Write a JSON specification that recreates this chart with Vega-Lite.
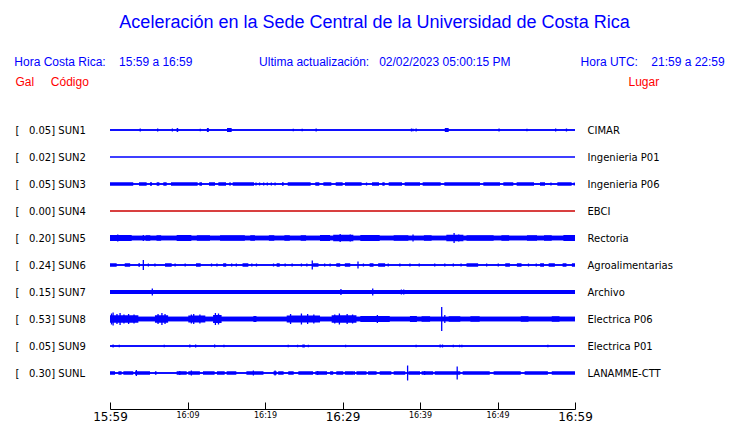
{
  "$schema": "https://vega.github.io/schema/vega-lite/v6.json",
  "width": 465,
  "height": 297,
  "autosize": "none",
  "padding": {"left": 110, "top": 103, "right": 165, "bottom": 23},
  "background": "white",
  "config": {"view": {"stroke": null}, "font": "Liberation Sans"},
  "title": {
    "text": "\u200b\u00a0\u00a0Aceleración en la Sede Central de la Universidad de Costa Rica",
    "subtitle": "Hora Costa Rica:\u00a0\u00a0\u00a0\u00a015:59 a 16:59\u00a0\u00a0\u00a0\u00a0\u00a0\u00a0\u00a0\u00a0\u00a0\u00a0\u00a0\u00a0\u00a0\u00a0\u00a0\u00a0\u00a0\u00a0\u00a0\u00a0Ultima actualización:\u00a0\u00a0\u00a002/02/2023 05:00:15 PM\u00a0\u00a0\u00a0\u00a0\u00a0\u00a0\u00a0\u00a0\u00a0\u00a0\u00a0\u00a0\u00a0\u00a0\u00a0\u00a0\u00a0\u00a0\u00a0\u00a0\u00a0Hora UTC:\u00a0\u00a0\u00a0\u00a021:59 a 22:59",
    "anchor": "middle",
    "frame": "group",
    "dx": 27,
    "offset": 7,
    "font": "Liberation Sans",
    "fontSize": 18,
    "fontWeight": "normal",
    "color": "#0000ff",
    "subtitleFont": "Liberation Sans",
    "subtitleFontSize": 12,
    "subtitleColor": "#0000ff",
    "subtitlePadding": 25
  },
  "datasets": {
    "stations": [
      {"code": "SUN1", "gal": 0.05, "lugar": "CIMAR", "noise": 1.3},
      {"code": "SUN2", "gal": 0.02, "lugar": "Ingenieria P01", "noise": 1.1},
      {"code": "SUN3", "gal": 0.05, "lugar": "Ingenieria P06", "noise": 1.4},
      {"code": "SUN4", "gal": 0.00, "lugar": "EBCI", "noise": 1.0},
      {"code": "SUN5", "gal": 0.20, "lugar": "Rectoria", "noise": 4.5},
      {"code": "SUN6", "gal": 0.24, "lugar": "Agroalimentarias", "noise": 1.5},
      {"code": "SUN7", "gal": 0.15, "lugar": "Archivo", "noise": 4},
      {"code": "SUN8", "gal": 0.53, "lugar": "Electrica P06", "noise": 4.5},
      {"code": "SUN9", "gal": 0.05, "lugar": "Electrica P01", "noise": 1.6},
      {"code": "SUNL", "gal": 0.30, "lugar": "LANAMME-CTT", "noise": 1.5}
    ],
    "bands": [
      {"s": "SUN1", "t0": 8.6, "t1": 8.8, "a": 4},
      {"s": "SUN1", "t0": 12.5, "t1": 12.75, "a": 4},
      {"s": "SUN1", "t0": 15.1, "t1": 15.7, "a": 4},
      {"s": "SUN1", "t0": 43.2, "t1": 43.7, "a": 4},
      {"s": "SUN3", "t0": 0, "t1": 3.0, "a": 3.5},
      {"s": "SUN3", "t0": 3.74, "t1": 4.73, "a": 3.5},
      {"s": "SUN3", "t0": 5.16, "t1": 5.42, "a": 3.5},
      {"s": "SUN3", "t0": 6.02, "t1": 6.37, "a": 3.5},
      {"s": "SUN3", "t0": 6.88, "t1": 7.31, "a": 3.5},
      {"s": "SUN3", "t0": 7.87, "t1": 11.31, "a": 3.5},
      {"s": "SUN3", "t0": 11.53, "t1": 11.87, "a": 3.5},
      {"s": "SUN3", "t0": 12.77, "t1": 13.55, "a": 3.5},
      {"s": "SUN3", "t0": 13.98, "t1": 14.97, "a": 3.5},
      {"s": "SUN3", "t0": 15.4, "t1": 15.57, "a": 3.5},
      {"s": "SUN3", "t0": 15.83, "t1": 18.58, "a": 3.5},
      {"s": "SUN3", "t0": 22.19, "t1": 22.41, "a": 3.5},
      {"s": "SUN3", "t0": 22.93, "t1": 25.89, "a": 3.5},
      {"s": "SUN3", "t0": 26.49, "t1": 27.01, "a": 3.5},
      {"s": "SUN3", "t0": 27.53, "t1": 28.56, "a": 3.5},
      {"s": "SUN3", "t0": 29.12, "t1": 30.02, "a": 3.5},
      {"s": "SUN3", "t0": 30.32, "t1": 32.47, "a": 3.5},
      {"s": "SUN3", "t0": 33.81, "t1": 34.71, "a": 3.5},
      {"s": "SUN3", "t0": 35.14, "t1": 35.44, "a": 3.5},
      {"s": "SUN3", "t0": 35.96, "t1": 37.68, "a": 3.5},
      {"s": "SUN3", "t0": 38.02, "t1": 40.0, "a": 3.5},
      {"s": "SUN3", "t0": 40.34, "t1": 42.67, "a": 3.5},
      {"s": "SUN3", "t0": 43.14, "t1": 47.74, "a": 3.5},
      {"s": "SUN3", "t0": 48.17, "t1": 50.32, "a": 3.5},
      {"s": "SUN3", "t0": 50.75, "t1": 52.04, "a": 3.5},
      {"s": "SUN3", "t0": 52.47, "t1": 54.71, "a": 3.5},
      {"s": "SUN3", "t0": 55.48, "t1": 56.13, "a": 3.5},
      {"s": "SUN3", "t0": 57.72, "t1": 59.57, "a": 3.5},
      {"s": "SUN5", "t0": 0, "t1": 2.8, "a": 6},
      {"s": "SUN5", "t0": 4.6, "t1": 5.2, "a": 5.5},
      {"s": "SUN5", "t0": 6.0, "t1": 6.6, "a": 5.5},
      {"s": "SUN5", "t0": 8.6, "t1": 10.5, "a": 6},
      {"s": "SUN5", "t0": 11.2, "t1": 12.9, "a": 5.5},
      {"s": "SUN5", "t0": 14.2, "t1": 17.4, "a": 5.5},
      {"s": "SUN5", "t0": 18.1, "t1": 18.7, "a": 5.5},
      {"s": "SUN5", "t0": 20.5, "t1": 21.2, "a": 5.5},
      {"s": "SUN5", "t0": 22.5, "t1": 23.2, "a": 5.5},
      {"s": "SUN5", "t0": 24.6, "t1": 25.3, "a": 5.5},
      {"s": "SUN5", "t0": 27.1, "t1": 28.4, "a": 6},
      {"s": "SUN5", "t0": 28.8, "t1": 31.4, "a": 6.5},
      {"s": "SUN5", "t0": 32.3, "t1": 34.8, "a": 6},
      {"s": "SUN5", "t0": 36.6, "t1": 38.5, "a": 5.5},
      {"s": "SUN5", "t0": 40.5, "t1": 41.5, "a": 5.5},
      {"s": "SUN5", "t0": 43.4, "t1": 45.6, "a": 6.5},
      {"s": "SUN5", "t0": 46, "t1": 49.5, "a": 5.5},
      {"s": "SUN5", "t0": 50.5, "t1": 51.5, "a": 5.5},
      {"s": "SUN5", "t0": 53.8, "t1": 55.1, "a": 5.5},
      {"s": "SUN5", "t0": 56.0, "t1": 57.0, "a": 5.5},
      {"s": "SUN5", "t0": 58.5, "t1": 60, "a": 6},
      {"s": "SUN6", "t0": 0, "t1": 0.86, "a": 3.5},
      {"s": "SUN6", "t0": 1.9, "t1": 2.6, "a": 3.5},
      {"s": "SUN6", "t0": 3.66, "t1": 3.87, "a": 3.5},
      {"s": "SUN6", "t0": 7.1, "t1": 7.96, "a": 3.5},
      {"s": "SUN6", "t0": 11.1, "t1": 11.7, "a": 3.5},
      {"s": "SUN6", "t0": 14.6, "t1": 15.0, "a": 3.5},
      {"s": "SUN6", "t0": 17.1, "t1": 17.85, "a": 3.5},
      {"s": "SUN6", "t0": 21.5, "t1": 21.9, "a": 3.5},
      {"s": "SUN6", "t0": 26.2, "t1": 26.9, "a": 3.5},
      {"s": "SUN6", "t0": 29.2, "t1": 29.7, "a": 3.5},
      {"s": "SUN6", "t0": 30.3, "t1": 31.0, "a": 3.5},
      {"s": "SUN6", "t0": 33.5, "t1": 34.0, "a": 3.5},
      {"s": "SUN6", "t0": 34.6, "t1": 35.5, "a": 3.5},
      {"s": "SUN6", "t0": 46.0, "t1": 47.5, "a": 3.5},
      {"s": "SUN6", "t0": 51.0, "t1": 51.6, "a": 3.5},
      {"s": "SUN6", "t0": 52.5, "t1": 53.1, "a": 3.5},
      {"s": "SUN6", "t0": 55.5, "t1": 56.0, "a": 3.5},
      {"s": "SUN6", "t0": 56.6, "t1": 57.4, "a": 3.5},
      {"s": "SUN6", "t0": 58.4, "t1": 58.9, "a": 3.5},
      {"s": "SUN6", "t0": 59.6, "t1": 60, "a": 3.5},
      {"s": "SUN8", "t0": 0, "t1": 3.66, "a": 7.5},
      {"s": "SUN8", "t0": 5.8, "t1": 7.5, "a": 7.5},
      {"s": "SUN8", "t0": 10.1, "t1": 12.3, "a": 7},
      {"s": "SUN8", "t0": 13.3, "t1": 14.4, "a": 8},
      {"s": "SUN8", "t0": 18.5, "t1": 18.9, "a": 6},
      {"s": "SUN8", "t0": 22.8, "t1": 27.1, "a": 7},
      {"s": "SUN8", "t0": 28.6, "t1": 31.8, "a": 7.5},
      {"s": "SUN8", "t0": 32.3, "t1": 36.1, "a": 6},
      {"s": "SUN8", "t0": 38.7, "t1": 39.6, "a": 6},
      {"s": "SUN8", "t0": 40.2, "t1": 41.3, "a": 5.5},
      {"s": "SUN8", "t0": 43.7, "t1": 45.2, "a": 5.5},
      {"s": "SUN8", "t0": 46.5, "t1": 47.7, "a": 5.5},
      {"s": "SUN8", "t0": 53.0, "t1": 54.0, "a": 5.5},
      {"s": "SUN8", "t0": 57.0, "t1": 58.0, "a": 5.5},
      {"s": "SUNL", "t0": 0, "t1": 0.65, "a": 3.5},
      {"s": "SUNL", "t0": 1.08, "t1": 1.5, "a": 3.5},
      {"s": "SUNL", "t0": 1.72, "t1": 3.0, "a": 3.5},
      {"s": "SUNL", "t0": 3.23, "t1": 5.16, "a": 3.5},
      {"s": "SUNL", "t0": 5.8, "t1": 6.0, "a": 3.5},
      {"s": "SUNL", "t0": 8.6, "t1": 9.9, "a": 3.5},
      {"s": "SUNL", "t0": 10.1, "t1": 11.6, "a": 3.5},
      {"s": "SUNL", "t0": 12.0, "t1": 13.5, "a": 3.5},
      {"s": "SUNL", "t0": 13.8, "t1": 14.8, "a": 3.5},
      {"s": "SUNL", "t0": 15.05, "t1": 16.3, "a": 3.5},
      {"s": "SUNL", "t0": 17.6, "t1": 19.8, "a": 3.5},
      {"s": "SUNL", "t0": 21.1, "t1": 21.5, "a": 3.5},
      {"s": "SUNL", "t0": 21.7, "t1": 22.4, "a": 3.5},
      {"s": "SUNL", "t0": 23.0, "t1": 23.7, "a": 3.5},
      {"s": "SUNL", "t0": 24.3, "t1": 26.2, "a": 3.5},
      {"s": "SUNL", "t0": 26.5, "t1": 28.0, "a": 3.5},
      {"s": "SUNL", "t0": 28.4, "t1": 28.8, "a": 3.5},
      {"s": "SUNL", "t0": 29.2, "t1": 30.1, "a": 3.5},
      {"s": "SUNL", "t0": 30.3, "t1": 31.4, "a": 3.5},
      {"s": "SUNL", "t0": 31.8, "t1": 33.1, "a": 3.5},
      {"s": "SUNL", "t0": 33.3, "t1": 34.4, "a": 3.5},
      {"s": "SUNL", "t0": 34.8, "t1": 36.3, "a": 3.5},
      {"s": "SUNL", "t0": 36.6, "t1": 38.1, "a": 3.5},
      {"s": "SUNL", "t0": 38.5, "t1": 40.0, "a": 3.5},
      {"s": "SUNL", "t0": 40.2, "t1": 41.7, "a": 3.5},
      {"s": "SUNL", "t0": 41.9, "t1": 45.2, "a": 3.5},
      {"s": "SUNL", "t0": 45.5, "t1": 49.0, "a": 3.5},
      {"s": "SUNL", "t0": 49.5, "t1": 53.0, "a": 3.5},
      {"s": "SUNL", "t0": 53.5, "t1": 56.5, "a": 3.5},
      {"s": "SUNL", "t0": 57.0, "t1": 60, "a": 3.5}
    ],
    "spikes": [
      {"s": "SUN1", "t": 3.9, "a": 3},
      {"s": "SUN1", "t": 6.15, "a": 3},
      {"s": "SUN1", "t": 8.05, "a": 3},
      {"s": "SUN1", "t": 11.65, "a": 2.5},
      {"s": "SUN1", "t": 23.65, "a": 2.5},
      {"s": "SUN1", "t": 24.8, "a": 2.5},
      {"s": "SUN1", "t": 26.6, "a": 3},
      {"s": "SUN1", "t": 38.9, "a": 3},
      {"s": "SUN1", "t": 39.1, "a": 2.5},
      {"s": "SUN1", "t": 39.5, "a": 3},
      {"s": "SUN1", "t": 50.2, "a": 3},
      {"s": "SUN1", "t": 53.8, "a": 2.5},
      {"s": "SUN1", "t": 57.5, "a": 3},
      {"s": "SUN1", "t": 58.9, "a": 3},
      {"s": "SUN3", "t": 18.84, "a": 3},
      {"s": "SUN3", "t": 19.3, "a": 3},
      {"s": "SUN3", "t": 19.83, "a": 3},
      {"s": "SUN3", "t": 20.3, "a": 3},
      {"s": "SUN3", "t": 20.82, "a": 3},
      {"s": "SUN3", "t": 21.3, "a": 3},
      {"s": "SUN3", "t": 33.1, "a": 3},
      {"s": "SUN3", "t": 56.9, "a": 3},
      {"s": "SUN3", "t": 59.9, "a": 3},
      {"s": "SUN5", "t": 1.0, "a": 7},
      {"s": "SUN5", "t": 4.3, "a": 6},
      {"s": "SUN5", "t": 29.7, "a": 8},
      {"s": "SUN5", "t": 31.0, "a": 7},
      {"s": "SUN5", "t": 39.1, "a": 7},
      {"s": "SUN5", "t": 44.4, "a": 10},
      {"s": "SUN5", "t": 45.0, "a": 7},
      {"s": "SUN6", "t": 4.3, "a": 10},
      {"s": "SUN6", "t": 26.1, "a": 9},
      {"s": "SUN6", "t": 32.0, "a": 7},
      {"s": "SUN6", "t": 4.95, "a": 3},
      {"s": "SUN6", "t": 5.8, "a": 3},
      {"s": "SUN6", "t": 8.4, "a": 3},
      {"s": "SUN6", "t": 9.7, "a": 3},
      {"s": "SUN6", "t": 13.1, "a": 3},
      {"s": "SUN6", "t": 13.8, "a": 3},
      {"s": "SUN6", "t": 15.7, "a": 3},
      {"s": "SUN6", "t": 16.3, "a": 3},
      {"s": "SUN6", "t": 18.3, "a": 3},
      {"s": "SUN6", "t": 18.9, "a": 3},
      {"s": "SUN6", "t": 21.1, "a": 3},
      {"s": "SUN6", "t": 22.6, "a": 3},
      {"s": "SUN6", "t": 23.5, "a": 3},
      {"s": "SUN6", "t": 24.7, "a": 3},
      {"s": "SUN6", "t": 25.4, "a": 3},
      {"s": "SUN6", "t": 27.7, "a": 3},
      {"s": "SUN6", "t": 28.4, "a": 3},
      {"s": "SUN6", "t": 32.7, "a": 3},
      {"s": "SUN6", "t": 35.9, "a": 3},
      {"s": "SUN6", "t": 37.4, "a": 3},
      {"s": "SUN6", "t": 38.7, "a": 3},
      {"s": "SUN6", "t": 39.9, "a": 3},
      {"s": "SUN6", "t": 41.9, "a": 3},
      {"s": "SUN6", "t": 43.2, "a": 3},
      {"s": "SUN6", "t": 44.3, "a": 3},
      {"s": "SUN6", "t": 45.3, "a": 3},
      {"s": "SUN6", "t": 48.6, "a": 3},
      {"s": "SUN6", "t": 50.1, "a": 3},
      {"s": "SUN6", "t": 54.0, "a": 3},
      {"s": "SUN6", "t": 55.0, "a": 3},
      {"s": "SUN7", "t": 5.46, "a": 7},
      {"s": "SUN7", "t": 29.8, "a": 6},
      {"s": "SUN7", "t": 33.9, "a": 7},
      {"s": "SUN7", "t": 37.6, "a": 5},
      {"s": "SUN7", "t": 37.9, "a": 5},
      {"s": "SUN8", "t": 0.2, "a": 11},
      {"s": "SUN8", "t": 0.4, "a": 13},
      {"s": "SUN8", "t": 0.9, "a": 10},
      {"s": "SUN8", "t": 1.3, "a": 12},
      {"s": "SUN8", "t": 1.8, "a": 9},
      {"s": "SUN8", "t": 2.4, "a": 10},
      {"s": "SUN8", "t": 3.1, "a": 9},
      {"s": "SUN8", "t": 6.2, "a": 10},
      {"s": "SUN8", "t": 6.7, "a": 12},
      {"s": "SUN8", "t": 7.1, "a": 10},
      {"s": "SUN8", "t": 10.5, "a": 9},
      {"s": "SUN8", "t": 10.8, "a": 10},
      {"s": "SUN8", "t": 11.6, "a": 9},
      {"s": "SUN8", "t": 13.6, "a": 12},
      {"s": "SUN8", "t": 14.0, "a": 11},
      {"s": "SUN8", "t": 23.3, "a": 10},
      {"s": "SUN8", "t": 24.7, "a": 11},
      {"s": "SUN8", "t": 25.5, "a": 10},
      {"s": "SUN8", "t": 26.3, "a": 9},
      {"s": "SUN8", "t": 29.0, "a": 9},
      {"s": "SUN8", "t": 29.6, "a": 11},
      {"s": "SUN8", "t": 30.6, "a": 10},
      {"s": "SUN8", "t": 31.3, "a": 9},
      {"s": "SUN8", "t": 34.5, "a": 8},
      {"s": "SUN8", "t": 42.8, "a": 24},
      {"s": "SUN8", "t": 43.2, "a": 8},
      {"s": "SUN9", "t": 0.4, "a": 3},
      {"s": "SUN9", "t": 1.2, "a": 2.5},
      {"s": "SUN9", "t": 7.0, "a": 2.5},
      {"s": "SUN9", "t": 10.3, "a": 3},
      {"s": "SUN9", "t": 11.05, "a": 3},
      {"s": "SUN9", "t": 13.5, "a": 3},
      {"s": "SUN9", "t": 14.7, "a": 2.5},
      {"s": "SUN9", "t": 23.0, "a": 2.5},
      {"s": "SUN9", "t": 24.2, "a": 2.5},
      {"s": "SUN9", "t": 24.9, "a": 3},
      {"s": "SUN9", "t": 25.05, "a": 3},
      {"s": "SUN9", "t": 25.6, "a": 2.5},
      {"s": "SUN9", "t": 30.4, "a": 2.5},
      {"s": "SUN9", "t": 39.5, "a": 2.5},
      {"s": "SUN9", "t": 42.6, "a": 3},
      {"s": "SUN9", "t": 42.9, "a": 3},
      {"s": "SUN9", "t": 44.3, "a": 2.5},
      {"s": "SUN9", "t": 45.1, "a": 2.5},
      {"s": "SUN9", "t": 45.4, "a": 2.5},
      {"s": "SUN9", "t": 56.5, "a": 2.5},
      {"s": "SUNL", "t": 3.4, "a": 6},
      {"s": "SUNL", "t": 9.0, "a": 4},
      {"s": "SUNL", "t": 10.5, "a": 5},
      {"s": "SUNL", "t": 18.5, "a": 5},
      {"s": "SUNL", "t": 21.3, "a": 5},
      {"s": "SUNL", "t": 26.8, "a": 4},
      {"s": "SUNL", "t": 31.5, "a": 4},
      {"s": "SUNL", "t": 38.4, "a": 15},
      {"s": "SUNL", "t": 40.6, "a": 4},
      {"s": "SUNL", "t": 44.8, "a": 13}
    ]
  },
  "layer": [
    {
      "data": {"name": "stations"},
      "transform": [{"calculate": "'[\u00a0\u00a0\u00a0' + format(datum.gal, '.2f') + '] ' + datum.code", "as": "left"}],
      "mark": {"type": "rule", "strokeCap": "butt"},
      "encoding": {
        "x": {
          "datum": 0, "type": "quantitative",
          "scale": {"domain": [0, 60], "nice": false, "zero": false},
          "axis": {
            "orient": "bottom",
            "offset": 9,
            "values": [0, 5, 10, 15, 20, 25, 30, 35, 40, 45, 50, 55, 60],
            "labelExpr": "datum.value % 10 ? '' : (format(floor((959 + datum.value) / 60), 'd') + ':' + format((959 + datum.value) % 60, '02d'))",
            "tickSize": -7,
            "tickColor": "black",
            "tickWidth": 1,
            "domainColor": "black",
            "domainWidth": 1,
            "grid": false,
            "title": null,
            "labelFont": "DejaVu Sans",
            "labelFontSize": {"condition": {"test": "datum.value % 30 === 0", "value": 12}, "value": 8},
            "labelColor": "black",
            "labelBaseline": "top",
            "labelPadding": 9,
            "labelFlush": false,
            "labelOverlap": false,
            "labelBound": false
          }
        },
        "x2": {"datum": 60},
        "y": {
          "field": "left", "type": "nominal", "sort": null,
          "scale": {"type": "point", "padding": 1},
          "axis": {
            "orient": "left", "domain": false, "ticks": false, "tickSize": 0, "grid": false,
            "labelAlign": "left", "labelPadding": 95, "labelFont": "DejaVu Sans", "labelFontSize": 10,
            "labelColor": "black", "labelBaseline": "middle", "labelLimit": 300, "labelOverlap": false,
            "title": "Gal\u00a0\u00a0\u00a0\u00a0\u00a0Código", "titleAngle": 0, "titleAlign": "left", "titleBaseline": "middle",
            "titleX": -95, "titleY": -22, "titleFont": "Liberation Sans", "titleFontSize": 12,
            "titleFontWeight": "normal", "titleColor": "#ff0000"
          }
        },
        "size": {"field": "noise", "type": "quantitative", "scale": {"type": "linear", "domain": [0, 30], "range": [0, 30]}, "legend": null},
        "color": {"condition": {"test": "datum.code === 'SUN4'", "value": "#cc0000"}, "value": "#0000ff"}
      }
    },
    {
      "data": {"name": "stations"},
      "mark": {"type": "rule", "strokeCap": "butt"},
      "encoding": {
        "x": {"datum": 0, "type": "quantitative"},
        "x2": {"datum": 60},
        "y": {
          "field": "lugar", "type": "nominal", "sort": null,
          "scale": {"type": "point", "padding": 1},
          "axis": {
            "orient": "right", "domain": false, "ticks": false, "tickSize": 0, "grid": false,
            "labelAlign": "left", "labelPadding": 12, "labelFont": "DejaVu Sans", "labelFontSize": 10,
            "labelColor": "black", "labelBaseline": "middle", "labelLimit": 300, "labelOverlap": false,
            "title": "Lugar", "titleAngle": 0, "titleAlign": "left", "titleBaseline": "middle",
            "titleX": 53, "titleY": -22, "titleFont": "Liberation Sans", "titleFontSize": 12,
            "titleFontWeight": "normal", "titleColor": "#ff0000"
          }
        },
        "size": {"field": "noise", "type": "quantitative"},
        "color": {"condition": {"test": "datum.code === 'SUN4'", "value": "#cc0000"}, "value": "#0000ff"}
      }
    },
    {
      "data": {"name": "bands"},
      "mark": {"type": "rule", "strokeCap": "butt", "color": "#0000ff"},
      "encoding": {
        "x": {"field": "t0", "type": "quantitative"},
        "x2": {"field": "t1"},
        "y": {
          "field": "s", "type": "nominal",
          "scale": {"type": "point", "padding": 1, "domain": ["SUN1", "SUN2", "SUN3", "SUN4", "SUN5", "SUN6", "SUN7", "SUN8", "SUN9", "SUNL"]},
          "axis": null
        },
        "size": {"field": "a", "type": "quantitative"}
      }
    },
    {
      "data": {"name": "spikes"},
      "mark": {"type": "tick", "thickness": 1.3, "color": "#0000ff", "opacity": 1},
      "encoding": {
        "x": {"field": "t", "type": "quantitative"},
        "y": {
          "field": "s", "type": "nominal",
          "scale": {"type": "point", "padding": 1, "domain": ["SUN1", "SUN2", "SUN3", "SUN4", "SUN5", "SUN6", "SUN7", "SUN8", "SUN9", "SUNL"]},
          "axis": null
        },
        "size": {"field": "a", "type": "quantitative"}
      }
    }
  ],
  "resolve": {"scale": {"y": "independent"}, "axis": {"y": "independent"}}
}
